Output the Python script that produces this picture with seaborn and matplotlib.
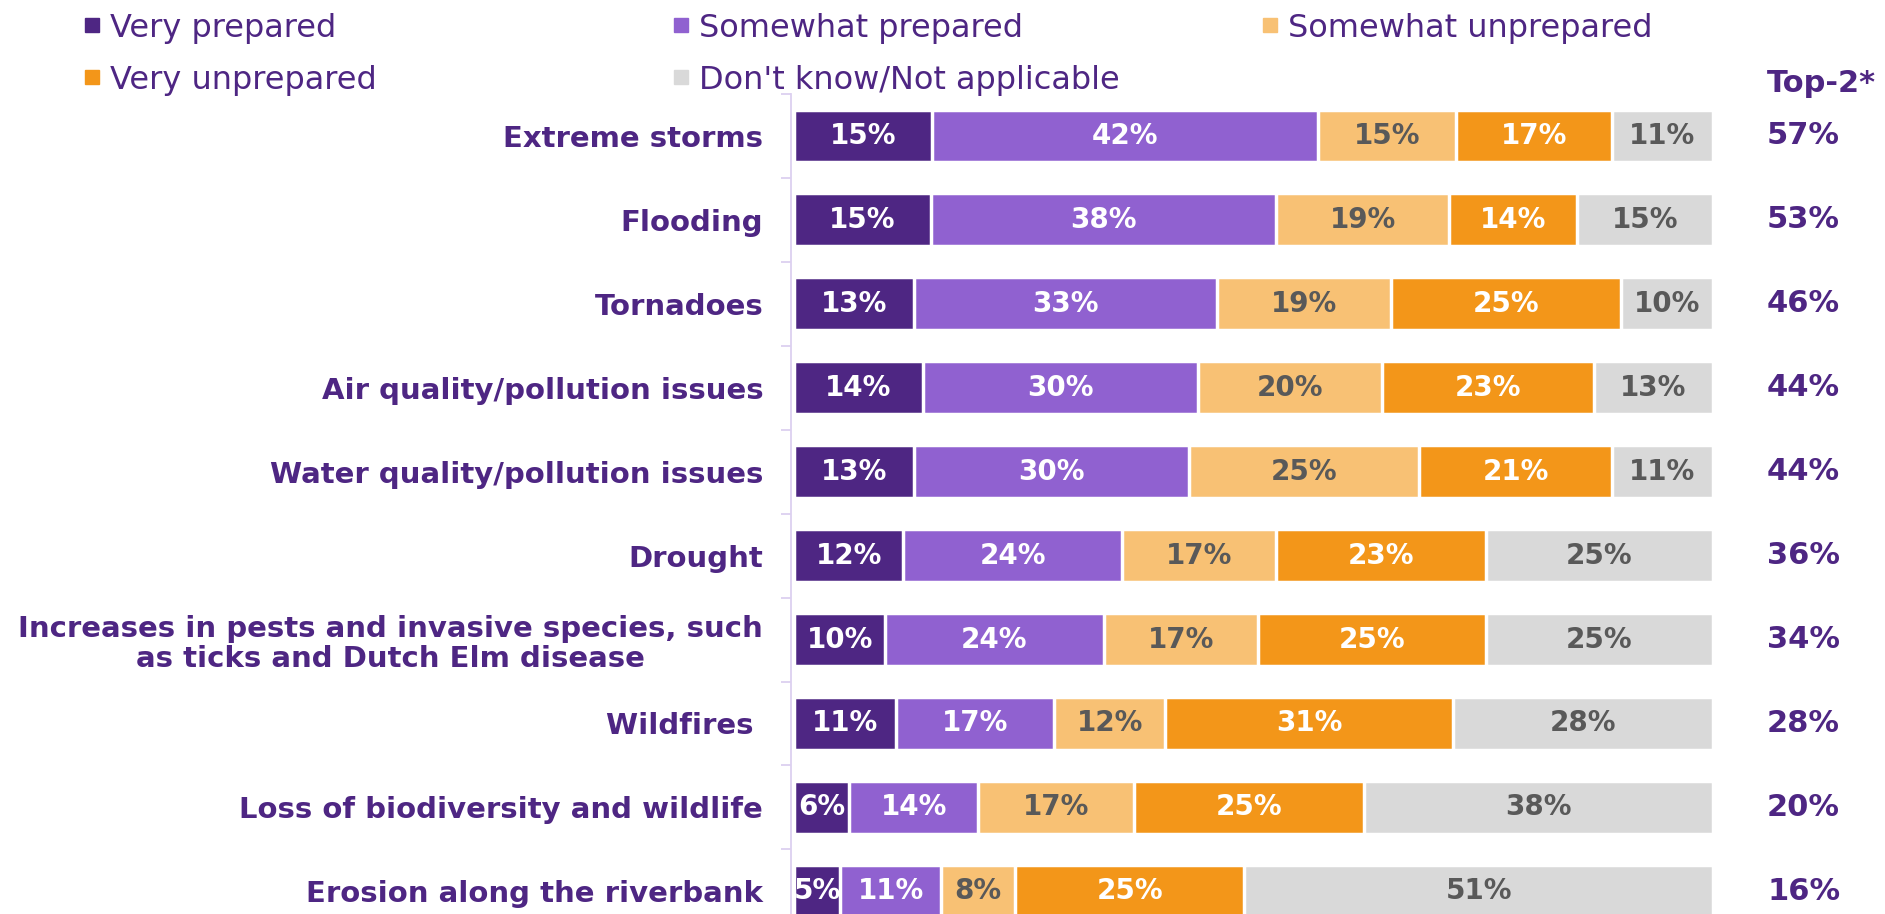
import numpy as np
import pandas as pd
import matplotlib
matplotlib.use("Agg")
import matplotlib.pyplot as plt
from matplotlib.lines import Line2D
import seaborn as sns

categories = [
    "Extreme storms",
    "Flooding",
    "Tornadoes",
    "Air quality/pollution issues",
    "Water quality/pollution issues",
    "Drought",
    "Increases in pests and invasive species, such\nas ticks and Dutch Elm disease",
    "Wildfires ",
    "Loss of biodiversity and wildlife",
    "Erosion along the riverbank",
]
series_names = ["Very prepared", "Somewhat prepared", "Somewhat unprepared",
                "Very unprepared", "Don't know/Not applicable"]
very_prepared = [15, 15, 13, 14, 13, 12, 10, 11, 6, 5]
somewhat_prepared = [42, 38, 33, 30, 30, 24, 24, 17, 14, 11]
somewhat_unprepared = [15, 19, 19, 20, 25, 17, 17, 12, 17, 8]
very_unprepared = [17, 14, 25, 23, 21, 23, 25, 31, 25, 25]
dont_know = [11, 15, 10, 13, 11, 25, 25, 28, 38, 51]
top2 = [57, 53, 46, 44, 44, 36, 34, 28, 20, 16]

colors = ["#4E2683", "#9061D0", "#F8C174", "#F39619", "#D9D9D9"]
text_colors = ["white", "white", "#595959", "white", "#595959"]
purple = "#4E2683"

sns.set_theme(style="white")
plt.rcParams["font.family"] = ["DejaVu Sans"]

W, H = 1885, 914
fig = plt.figure(figsize=(W / 100, H / 100), dpi=100)
ax_left = 791 / W
ax_right = 1713 / W
ax_top = 94 / H
ax = fig.add_axes([ax_left, 0, ax_right - ax_left, 1 - ax_top])

vals = np.array([very_prepared, somewhat_prepared, somewhat_unprepared,
                 very_unprepared, dont_know], dtype=float)
totals = vals.sum(axis=0)
norm = vals / totals * 100
cum = np.cumsum(norm, axis=0)

# draw cumulative bars from widest to narrowest so each overlays the next
for k in range(4, -1, -1):
    df = pd.DataFrame({"cat": categories, "val": cum[k]})
    sns.barplot(data=df, x="val", y="cat", orient="h", color=colors[k],
                width=0.63, edgecolor="white", linewidth=2.5, saturation=1,
                ax=ax)

# segment labels
for k in range(5):
    for i in range(len(categories)):
        left = cum[k, i] - norm[k, i]
        ax.text(left + norm[k, i] / 2, i, f"{int(vals[k, i])}%",
                ha="center", va="center", color=text_colors[k],
                fontsize=20, fontweight="bold")

ax.set_xlabel("")
ax.set_ylabel("")
ax.set_xticks([])
ax.set_yticks(range(len(categories)))
ax.set_yticklabels(categories, fontsize=21, fontweight="bold", color=purple,
                   multialignment="center", linespacing=1.1)
ax.set_yticks(np.arange(-0.5, len(categories), 1), minor=True)
ax.tick_params(axis="y", which="major", length=0, pad=20)
ax.tick_params(axis="y", which="minor", length=7, width=1.3,
               color="#DCD0F0", left=True)
ax.set_xlim(-0.35, 100)
ax.set_ylim(9.27, -0.5)
for s in ["top", "right", "bottom"]:
    ax.spines[s].set_visible(False)
ax.spines["left"].set_color("#DCD0F0")
ax.spines["left"].set_linewidth(1.3)

# Top-2 column
x_top = 1767 / W
fig.text(x_top, 1 - 84 / H, "Top-2*", ha="left", va="center",
         fontsize=22, fontweight="bold", color=purple)
for i, v in enumerate(top2):
    y_px = 94 + (i + 0.5) * 83.9
    fig.text(x_top, 1 - y_px / H, f"{v}%", ha="left", va="center",
             fontsize=22, fontweight="bold", color=purple)

# legend: items laid out in two rows of three fixed-width columns
col_x = [84, 673, 1262]
row_y = [28, 80]
order = [(0, 0, 0), (1, 1, 0), (2, 2, 0), (3, 0, 1), (4, 1, 1)]
for j, c, r in order:
    h = Line2D([], [], marker="s", linestyle="none", markersize=10,
               markerfacecolor=colors[j], markeredgecolor=colors[j])
    fig.legend([h], [series_names[j]], loc="center left",
               bbox_to_anchor=(col_x[c] / W, 1 - row_y[r] / H),
               frameon=False, fontsize=23, labelcolor=purple,
               handlelength=0.5, handletextpad=0.3,
               borderaxespad=0.0, borderpad=0.0)

fig.savefig("out.png", dpi=100)
